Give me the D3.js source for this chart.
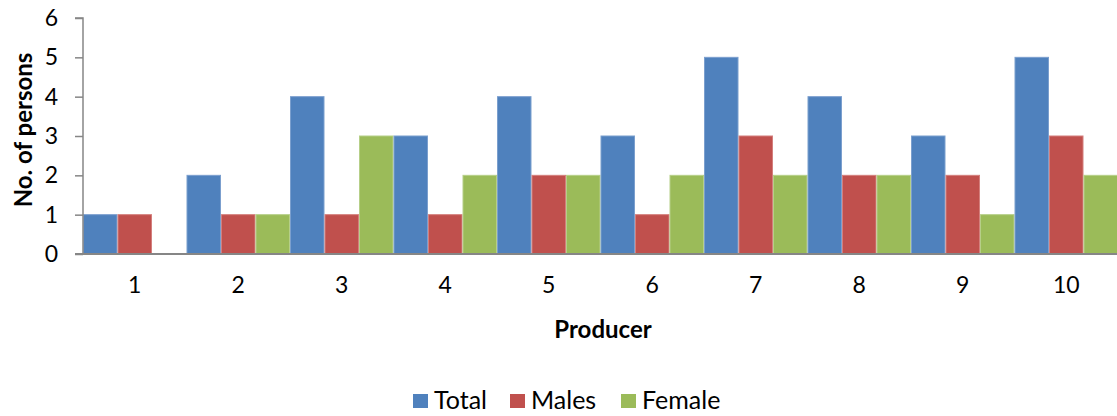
<!DOCTYPE html>
<html>
<head>
<meta charset="utf-8">
<script src="https://cdn.jsdelivr.net/npm/d3@7"></script>
<style>
  html, body { margin: 0; padding: 0; background: #fff; }
  svg { display: block; font-family: Lato, "Open Sans", sans-serif; }
</style>
</head>
<body>
<svg id="chart" width="1117" height="416"></svg>
<script>
// Persons per producer
const producers = ["1", "2", "3", "4", "5", "6", "7", "8", "9", "10"];
const seriesNames = ["Total", "Males", "Female"];
const totalValues = [1, 2, 4, 3, 4, 3, 5, 4, 3, 5];
const malesValues = [1, 1, 1, 1, 2, 1, 3, 2, 2, 3];
const femaleValues = [0, 1, 3, 2, 2, 2, 2, 2, 1, 2];
const yTicks = [0, 1, 2, 3, 4, 5, 6];
const colors = ["#4f81bd", "#c0504d", "#9bbb59"];
const strokes = ["#7b9fce", "#d47f7d", "#b6cf88"];

const seriesValues = [totalValues, malesValues, femaleValues];

const svg = d3.select("#chart");
const plotLeft = 83, plotRight = 1118, plotTop = 18, plotBottom = 254;

const x0 = d3.scaleBand().domain(producers).range([plotLeft, plotRight]).padding(0);
const x1 = d3.scaleBand().domain(seriesNames).range([0, x0.bandwidth()]).padding(0);
const y = d3.scaleLinear().domain([0, 6]).range([plotBottom, plotTop]);

// bars
const groups = svg.append("g").selectAll("g")
  .data(producers)
  .join("g")
  .attr("transform", d => `translate(${x0(d)},0)`);

groups.selectAll("rect")
  .data((p, i) => seriesNames.map((s, k) => ({ s, k, v: seriesValues[k][i] })).filter(d => d.v > 0))
  .join("rect")
  .attr("x", d => x1(d.s) + 0.5)
  .attr("y", d => y(d.v))
  .attr("width", x1.bandwidth() - 1)
  .attr("height", d => y(0) - y(d.v))
  .attr("fill", d => colors[d.k])
  .attr("stroke", d => strokes[d.k])
  .attr("stroke-width", 1);

// y axis
const yAxis = d3.axisLeft(y).tickValues(yTicks).tickSize(8).tickPadding(17).tickFormat(d3.format("d"));
const gy = svg.append("g").attr("transform", `translate(${plotLeft},0)`).call(yAxis);
gy.select(".domain").attr("stroke", "#868686").attr("stroke-width", 1.5).attr("d", `M-8,${plotTop}H0V${plotBottom}`);
gy.selectAll(".tick line").attr("stroke", "#868686").attr("stroke-width", 1.5);
gy.selectAll(".tick text").attr("font-size", 23).attr("fill", "#000").attr("font-family", "Lato, 'Open Sans', sans-serif");

// x axis
const xAxis = d3.axisBottom(x0).tickSize(0).tickPadding(23);
const gx = svg.append("g").attr("transform", `translate(0,${plotBottom})`).call(xAxis);
gx.select(".domain").attr("stroke", "#868686").attr("stroke-width", 2).attr("d", `M${plotLeft - 8},0H${plotRight}`);
gx.selectAll(".tick text").attr("font-size", 23).attr("fill", "#000").attr("font-family", "Lato, 'Open Sans', sans-serif");

// axis titles
svg.append("text")
  .attr("x", 603).attr("y", 338)
  .attr("text-anchor", "middle")
  .attr("font-size", 24).attr("font-weight", "bold")
  .text("Producer");

svg.append("text")
  .attr("transform", `translate(32,130) rotate(-90)`)
  .attr("text-anchor", "middle")
  .attr("font-size", 24).attr("font-weight", "bold")
  .text("No. of persons");

// legend
const legendX = [413, 510, 621];
const legend = svg.append("g").selectAll("g")
  .data(seriesNames)
  .join("g")
  .attr("transform", (d, i) => `translate(${legendX[i]},394)`);
legend.append("rect")
  .attr("x", 0).attr("y", 0).attr("width", 15).attr("height", 14)
  .attr("fill", (d, i) => colors[i]);
legend.append("text")
  .attr("x", 21).attr("y", 15)
  .attr("font-size", 25).attr("fill", "#000")
  .text(d => d);
</script>
</body>
</html>
